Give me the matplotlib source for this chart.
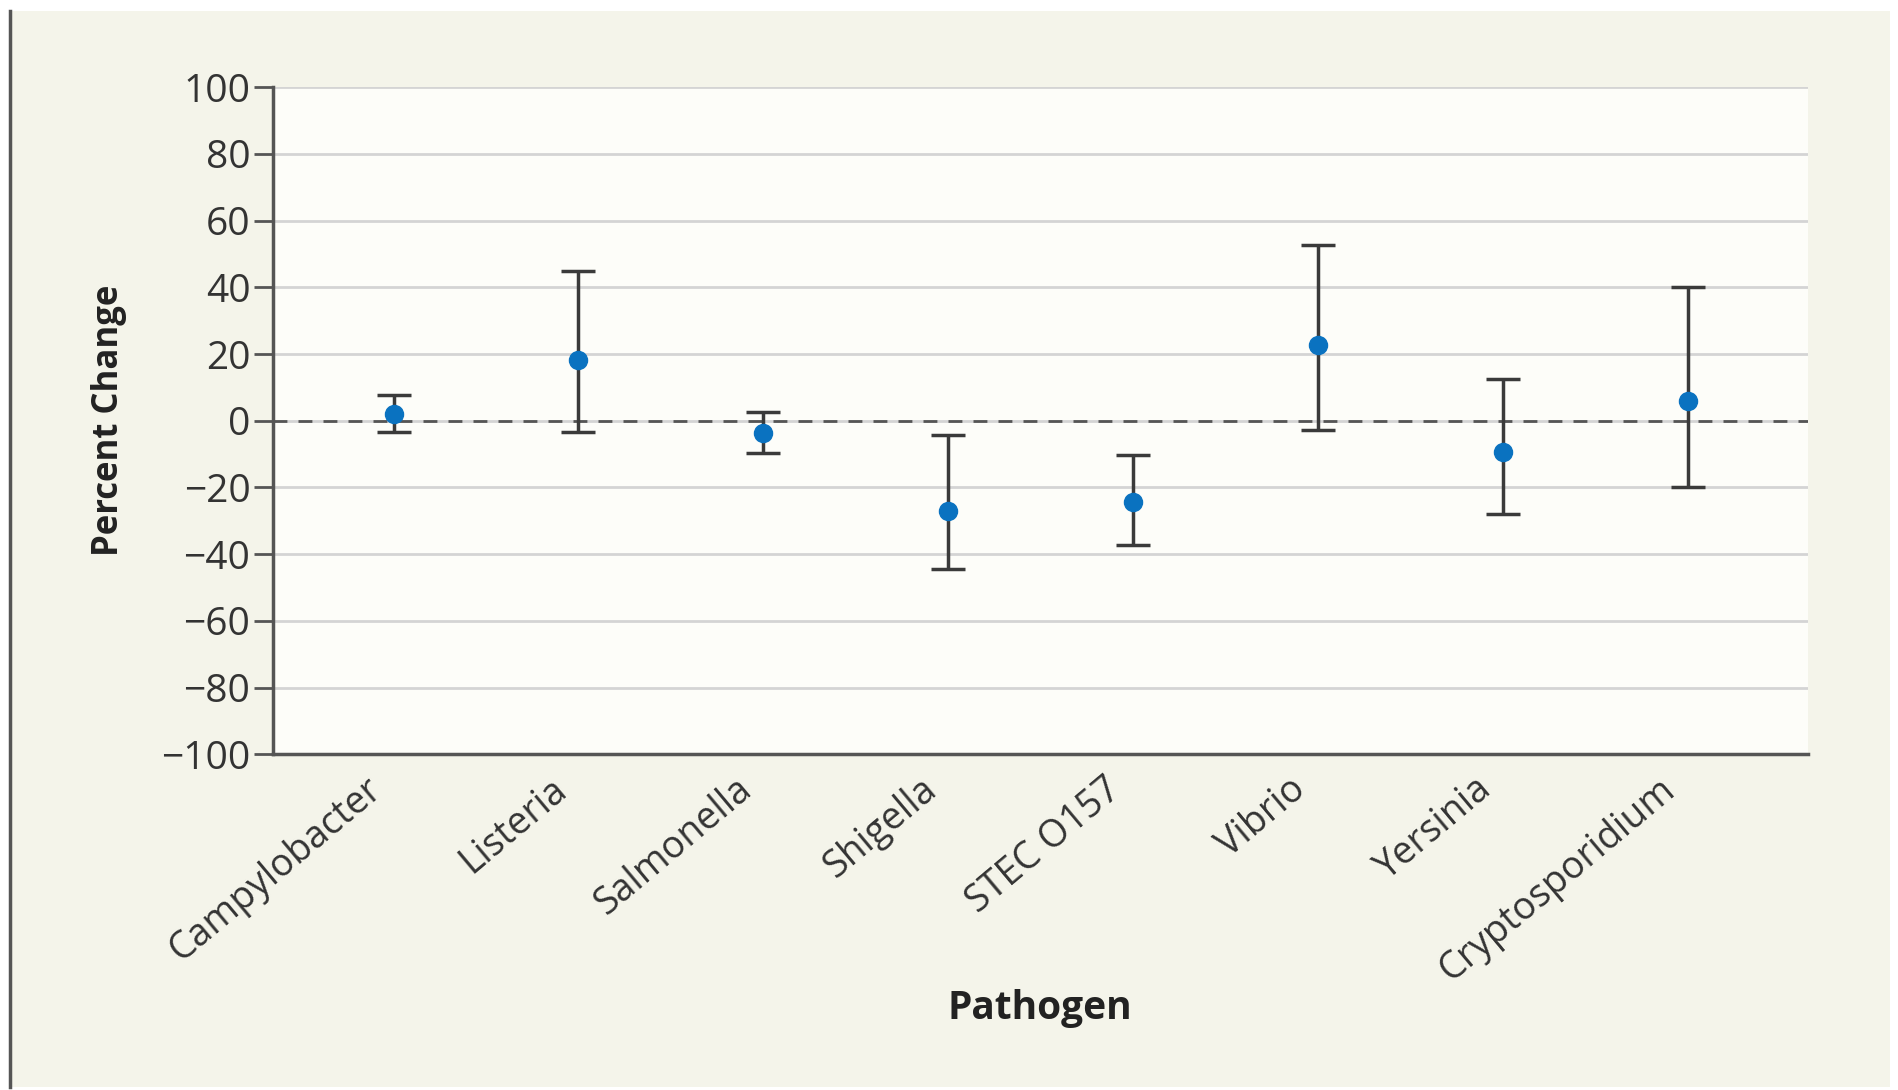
import numpy as np
import matplotlib.pyplot as plt
from matplotlib.patches import Rectangle
from matplotlib.lines import Line2D
from matplotlib.transforms import ScaledTranslation

# données
pathogens = ["Campylobacter", "Listeria", "Salmonella", "Shigella",
             "STEC O157", "Vibrio", "Yersinia", "Cryptosporidium"]
change = [2.0, 18.3, -3.8, -27.0, -24.5, 22.7, -9.3, 6.0]
ci_low = [-3.4, -3.4, -9.6, -44.5, -37.2, -2.7, -28.1, -19.8]
ci_high = [7.8, 44.8, 2.7, -4.2, -10.3, 52.8, 12.5, 40.1]
y_ticks = [-100, -80, -60, -40, -20, 0, 20, 40, 60, 80, 100]

plt.rcParams["font.family"] = ["Open Sans", "DejaVu Sans"]

x = np.arange(len(pathogens))
change = np.array(change)
err = [change - np.array(ci_low), np.array(ci_high) - change]

fig = plt.figure(figsize=(18.99, 10.9), dpi=100, facecolor="white")
# fond beige et trait à gauche
fig.patches.append(Rectangle((0.005, 0.003), 0.99, 0.987, transform=fig.transFigure,
                             facecolor="#F4F4EA", edgecolor="none", zorder=-10))
fig.lines.append(Line2D([0.0055, 0.0055], [0.003, 0.99], transform=fig.transFigure,
                        color="#555555", lw=2.5, zorder=-9))

ax = fig.add_axes([0.1435, 0.308, 0.8085, 0.612])
ax.set_facecolor("#FDFDF9")

ax.errorbar(x, change, yerr=err, fmt="o", color="#0A72C0", markersize=13,
            ecolor="#3a3a3a", elinewidth=2.5, capsize=12, capthick=2.5, zorder=4)
ax.axhline(0, color="#555555", lw=2, linestyle=(0, (5, 4)), zorder=3)

ax.set_ylim(-100, 100)
ax.set_xlim(-0.655, 7.65)
ax.set_yticks(y_ticks)
ax.set_yticklabels([str(v).replace("-", "\u2212") for v in y_ticks])
ax.set_xticks(x)
ax.set_xticklabels([])

# étiquettes des pathogènes, inclinées et décalées
offset = ScaledTranslation(-12 / 72, -22 / 72, fig.dpi_scale_trans)
for xi, name in zip(x, pathogens):
    ax.text(xi, 0, name, transform=ax.get_xaxis_transform() + offset,
            rotation=40, ha="right", va="center", rotation_mode="anchor",
            fontsize=27, color="#333333")

ax.grid(axis="y", color="#d4d4d4", lw=2)
ax.set_axisbelow(True)
for s in ["top", "right"]:
    ax.spines[s].set_visible(False)
for s in ["left", "bottom"]:
    ax.spines[s].set_color("#555555")
    ax.spines[s].set_linewidth(2.5)

ax.tick_params(axis="y", length=14, width=2, color="#555555", labelsize=28,
               labelcolor="#333333", pad=2)
ax.tick_params(axis="x", length=0)

ax.set_ylabel("Percent Change", fontsize=25, fontweight="bold", color="#222222")
ax.set_xlabel("Pathogen", fontsize=28, fontweight="bold", color="#222222")
ax.yaxis.set_label_coords(-0.095, 0.5)
ax.xaxis.set_label_coords(0.5, -0.352)

fig.savefig("out.png", dpi=100, facecolor=fig.get_facecolor())
